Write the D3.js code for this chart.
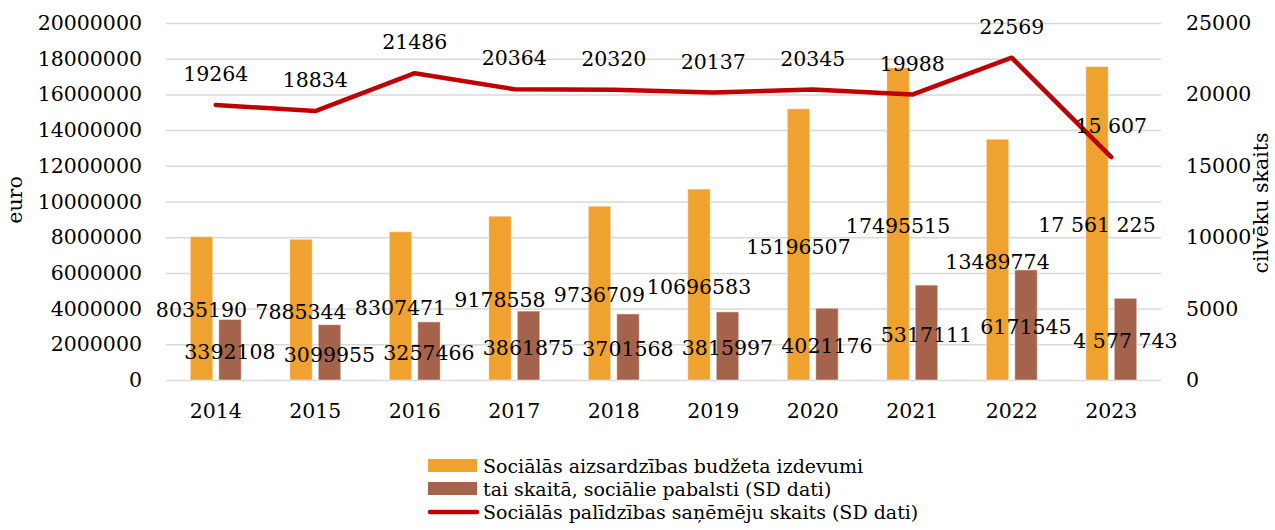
<!DOCTYPE html>
<html>
<head>
<meta charset="utf-8">
<script src="https://cdn.jsdelivr.net/npm/d3@7"></script>
<style>
  body { margin: 0; background: #fff; }
  text { font-family: "DejaVu Serif", serif; fill: #000; }
</style>
</head>
<body>
<div id="chart"></div>
<script>
// data
const years = ["2014", "2015", "2016", "2017", "2018", "2019", "2020", "2021", "2022", "2023"];
const budget = [8035190, 7885344, 8307471, 9178558, 9736709, 10696583, 15196507, 17495515, 13489774, 17561225];
const benefits = [3392108, 3099955, 3257466, 3861875, 3701568, 3815997, 4021176, 5317111, 6171545, 4577743];
const recipients = [19264, 18834, 21486, 20364, 20320, 20137, 20345, 19988, 22569, 15607];
const leftTicks = [0, 2000000, 4000000, 6000000, 8000000, 10000000, 12000000, 14000000, 16000000, 18000000, 20000000];
const rightTicks = [0, 5000, 10000, 15000, 20000, 25000];
const seriesNames = [
  "Sociālās aizsardzības budžeta izdevumi",
  "tai skaitā, sociālie pabalsti (SD dati)",
  "Sociālās palīdzības saņēmēju skaits (SD dati)"
];

const W = 1275, H = 530;
const plotL = 166, plotR = 1161, plotT = 23, plotB = 380;
const fs = 20.5;
const orange = "#EFA22F", brown = "#A5634B", red = "#C00000";

// last year is written with space separators in the source
const spaced = d3.formatLocale({decimal: ",", thousands: " ", grouping: [3], currency: ["", ""]}).format(",d");
const plain = d3.format("d");
function fmt(v, i) { return i === years.length - 1 ? spaced(v) : plain(v); }

const svg = d3.select("#chart").append("svg")
    .attr("width", W)
    .attr("height", H);

const x = d3.scaleBand().domain(years).range([plotL, plotR]);
const x1 = d3.scaleBand().domain(["budget", "benefits"])
    .range([0, x.bandwidth()])
    .paddingInner(0.2105)
    .paddingOuter(0.851);
const y = d3.scaleLinear().domain([0, 20000000]).range([plotB, plotT]);
const y2 = d3.scaleLinear().domain([0, 25000]).range([plotB, plotT]);

// gridlines
svg.append("g")
    .attr("transform", `translate(${plotL},0)`)
    .call(d3.axisLeft(y).tickValues(leftTicks).tickSize(-(plotR - plotL)).tickFormat(""))
    .call(g => g.select(".domain").remove())
    .call(g => g.selectAll("line").attr("stroke", "#d9d9d9").attr("stroke-width", 1.5));

// left axis labels
svg.append("g")
    .attr("transform", `translate(${plotL - 21},0)`)
    .call(d3.axisLeft(y).tickValues(leftTicks).tickSize(0).tickFormat(plain))
    .call(g => g.select(".domain").remove())
    .call(g => g.selectAll("text").attr("font-size", fs).attr("font-family", "DejaVu Serif").attr("fill", "#000"));

// right axis labels
svg.append("g")
    .attr("transform", `translate(${plotR + 22},0)`)
    .call(d3.axisRight(y2).tickValues(rightTicks).tickSize(0).tickFormat(plain))
    .call(g => g.select(".domain").remove())
    .call(g => g.selectAll("text").attr("font-size", fs).attr("font-family", "DejaVu Serif").attr("fill", "#000"));

// x axis labels
svg.append("g")
    .attr("transform", `translate(0,${plotB + 20})`)
    .call(d3.axisBottom(x).tickSize(0))
    .call(g => g.select(".domain").remove())
    .call(g => g.selectAll("text").attr("font-size", fs).attr("font-family", "DejaVu Serif").attr("fill", "#000"));

// axis titles
svg.append("text")
    .attr("transform", "translate(22,200) rotate(-90)")
    .attr("text-anchor", "middle")
    .attr("font-size", fs)
    .text("euro");

svg.append("text")
    .attr("transform", "translate(1268,203) rotate(-90)")
    .attr("text-anchor", "middle")
    .attr("font-size", fs)
    .text("cilvēku skaits");

// bars
const groups = svg.append("g").selectAll("g")
    .data(years)
    .enter().append("g")
    .attr("transform", d => `translate(${x(d)},0)`);

groups.append("rect")
    .attr("x", x1("budget"))
    .attr("width", x1.bandwidth())
    .attr("y", (d, i) => y(budget[i]))
    .attr("height", (d, i) => plotB - y(budget[i]))
    .attr("fill", orange)
    .attr("stroke", "#fff")
    .attr("stroke-opacity", 0.5);

groups.append("rect")
    .attr("x", x1("benefits"))
    .attr("width", x1.bandwidth())
    .attr("y", (d, i) => y(benefits[i]))
    .attr("height", (d, i) => plotB - y(benefits[i]))
    .attr("fill", brown)
    .attr("stroke", "#fff")
    .attr("stroke-opacity", 0.5);

// line
const cx = d => x(d) + x.bandwidth() / 2;
const line = d3.line()
    .x(d => cx(d))
    .y((d, i) => y2(recipients[i]));

svg.append("path")
    .datum(years)
    .attr("d", line)
    .attr("fill", "none")
    .attr("stroke", red)
    .attr("stroke-width", 4.5)
    .attr("stroke-linejoin", "round")
    .attr("stroke-linecap", "round");

// bar labels, centered in the bar
groups.append("text")
    .attr("x", x1("budget") + x1.bandwidth() / 2)
    .attr("y", (d, i) => (y(budget[i]) + plotB) / 2 + 2)
    .attr("dy", "0.35em")
    .attr("text-anchor", "middle")
    .attr("font-size", fs)
    .text((d, i) => fmt(budget[i], i));

groups.append("text")
    .attr("x", x1("benefits") + x1.bandwidth() / 2)
    .attr("y", (d, i) => (y(benefits[i]) + plotB) / 2 + 2)
    .attr("dy", "0.35em")
    .attr("text-anchor", "middle")
    .attr("font-size", fs)
    .text((d, i) => fmt(benefits[i], i));

// line labels above points
svg.append("g").selectAll("text")
    .data(years)
    .enter().append("text")
    .attr("x", d => cx(d))
    .attr("y", (d, i) => y2(recipients[i]) - 31)
    .attr("dy", "0.35em")
    .attr("text-anchor", "middle")
    .attr("font-size", fs)
    .text((d, i) => fmt(recipients[i], i));

// legend
const legend = svg.append("g").attr("transform", "translate(428,0)");
const rows = [466, 489, 512];

legend.append("rect").attr("x", 0).attr("y", rows[0] - 7).attr("width", 49).attr("height", 13).attr("fill", orange);
legend.append("rect").attr("x", 0).attr("y", rows[1] - 7).attr("width", 49).attr("height", 13).attr("fill", brown);
legend.append("line")
    .attr("x1", 2).attr("x2", 49)
    .attr("y1", rows[2]).attr("y2", rows[2])
    .attr("stroke", red).attr("stroke-width", 4.5).attr("stroke-linecap", "round");

legend.selectAll("text.lg")
    .data(seriesNames)
    .enter().append("text")
    .attr("class", "lg")
    .attr("x", 55)
    .attr("y", (d, i) => rows[i])
    .attr("dy", "0.35em")
    .attr("font-size", 19)
    .text(d => d);
</script>
</body>
</html>
